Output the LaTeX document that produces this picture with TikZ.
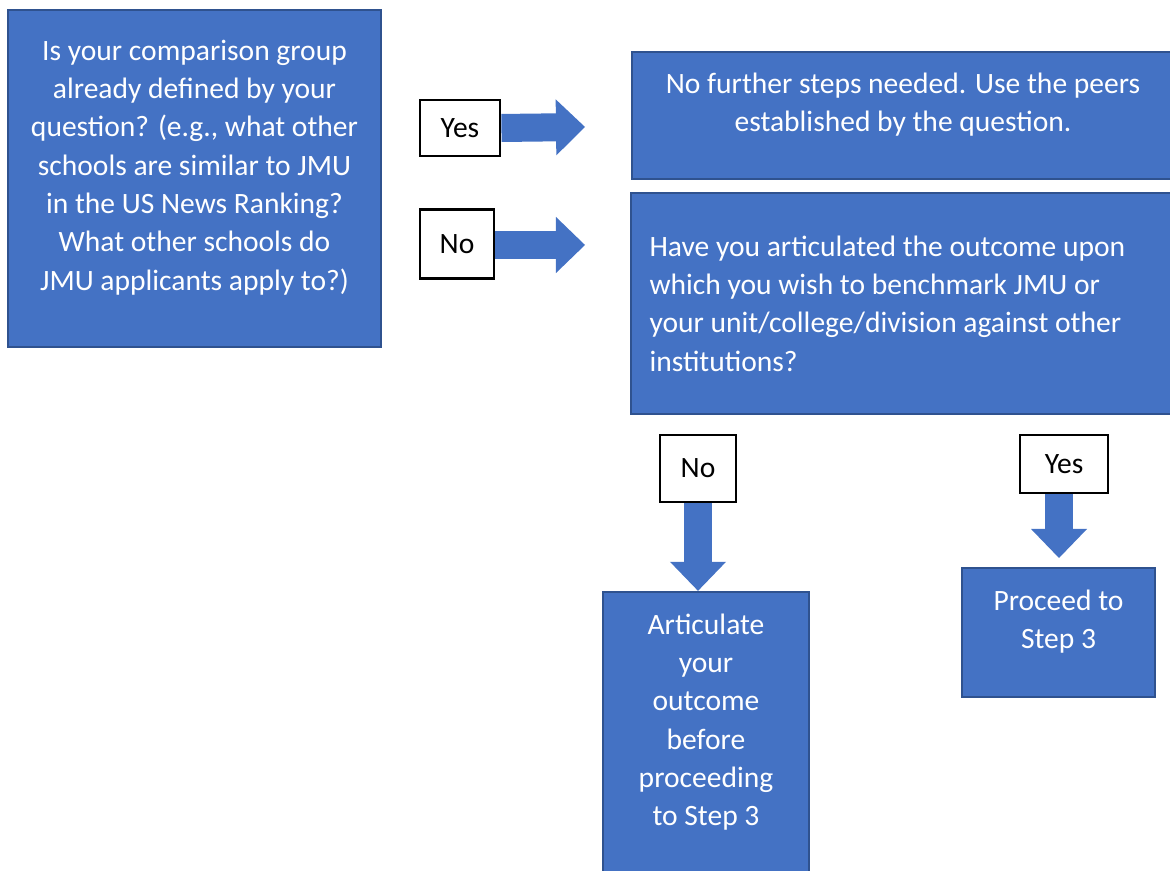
\documentclass[tikz,border=0pt]{standalone}
\usepackage{fontspec}
\setmainfont{Carlito}
\usetikzlibrary{arrows.meta}

\definecolor{boxblue}{HTML}{4472C4}
\definecolor{edgeblue}{HTML}{2F528F}

\begin{document}
\begin{tikzpicture}[x=0.01cm,y=-0.01cm,
  bluebox/.style={draw=edgeblue,fill=boxblue,line width=0.6pt},
  boxtext/.style={text=white,inner sep=0pt,font=\fontsize{8.4}{10.9}\selectfont},
  answer/.style={draw=black,fill=white,line width=0.8pt,font=\fontsize{8.4}{10.9}\selectfont},
  bigarrow/.style={draw=boxblue,line width=0.28cm,-{Triangle[width=0.56cm,length=0.29cm,line width=0pt]}}]

% Page size and clipping of the boxes running off the edge
\useasboundingbox (0,0) rectangle (1170,871);
\clip (0,0) rectangle (1170,871);

\def\tshift{0.11cm}   %text sits a little above the box centre

% Blue boxes
\node[bluebox,minimum width=3.73cm,minimum height=3.37cm] (qbox) at (194.5,178.5) {};
\node[bluebox,minimum width=5.42cm,minimum height=1.27cm] (peers) at (903,115.5) {};
\node[bluebox,minimum width=5.49cm,minimum height=2.21cm] (outcome) at (905.5,303.5) {};
\node[bluebox,minimum width=2.06cm,minimum height=3.08cm] (artic) at (706,746) {};
\node[bluebox,minimum width=1.93cm,minimum height=1.29cm] (proceed) at (1058.5,632.5) {};

% Texts
\node[boxtext,align=center,yshift=\tshift] (qtext) at (qbox) {Is your comparison group\\already defined by your\\question? (e.g., what other\\schools are similar to JMU\\in the US News Ranking?\\What other schools do\\JMU applicants apply to?)};
\node[boxtext,align=center,yshift=\tshift] (ptext) at (peers) {No further steps needed. Use the peers\\established by the question.};
\node[boxtext,align=left,anchor=west,xshift=0.19cm] (otext) at (outcome.west) {Have you articulated the outcome upon\\which you wish to benchmark JMU or\\your unit/college/division against other\\institutions?};
\node[boxtext,align=center,yshift=0.24cm] (atext) at (artic) {Articulate\\your\\outcome\\before\\proceeding\\to Step 3};
\node[boxtext,align=center,yshift=\tshift] (stext) at (proceed) {Proceed to\\Step 3};

% Answer boxes
\node[answer,minimum width=0.80cm,minimum height=0.56cm] (yesA) at (460,128) {Yes};
\node[answer,minimum width=0.74cm,minimum height=0.69cm,yshift=0.05cm] (noA) at (457,249) {No};
\node[answer,minimum width=0.76cm,minimum height=0.67cm] (noB) at (698,468.5) {No};
\node[answer,minimum width=0.88cm,minimum height=0.58cm] (yesB) at (1064,464) {Yes};

% Arrow tips
\coordinate (tipA) at (585,127);
\coordinate (tipB) at (585,245);
\coordinate (tipD) at (1059,558);

% Block arrows
\draw[bigarrow] (yesA.east) -- (tipA);
\draw[bigarrow] (noA.east |- tipB) -- (tipB);
\draw[bigarrow] (noB.south) -- (noB.south |- artic.north);
\draw[bigarrow] (tipD |- yesB.south) -- (tipD);

\end{tikzpicture}
\end{document}
